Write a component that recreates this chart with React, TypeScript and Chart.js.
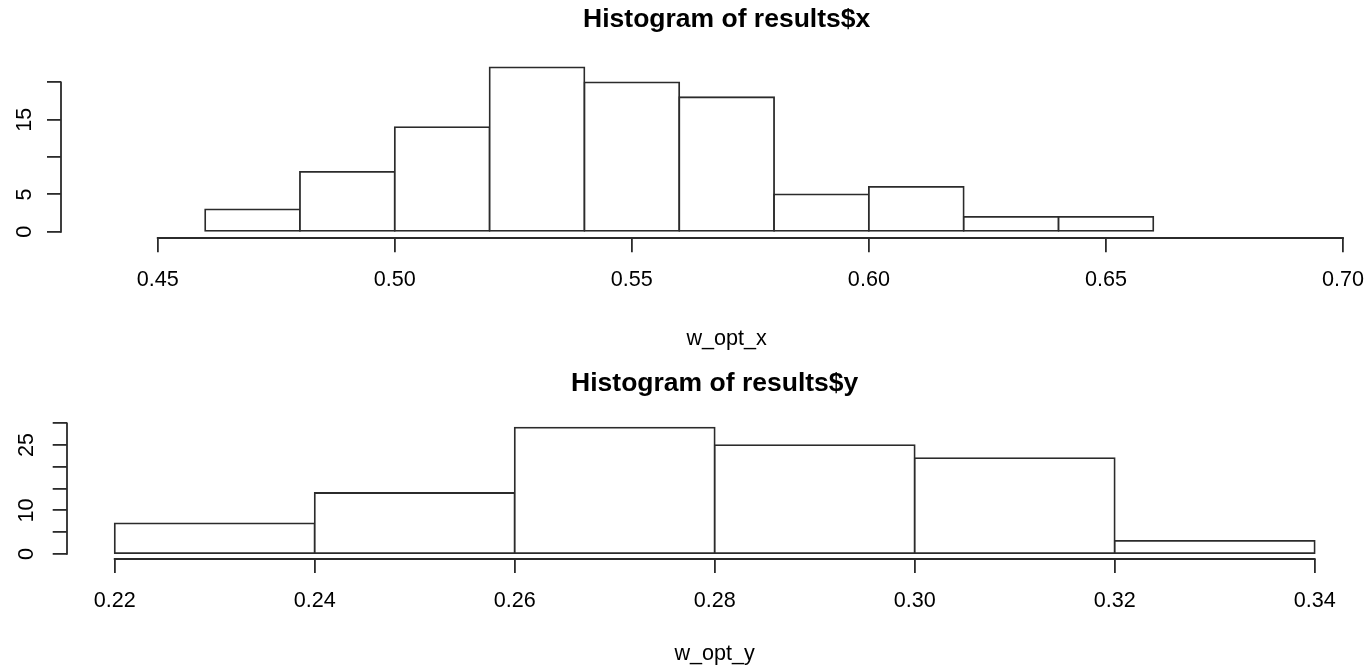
import React, { useEffect, useRef } from 'react';
import { Chart, registerables } from 'chart.js';

Chart.register(...registerables);

// ---- Data: histogram of results$x ----
const xBreaks = [0.46, 0.48, 0.5, 0.52, 0.54, 0.56, 0.58, 0.6, 0.62, 0.64, 0.66];
const xCounts = [3, 8, 14, 22, 20, 18, 5, 6, 2, 2];
const xAxisTicks = [0.45, 0.5, 0.55, 0.6, 0.65, 0.7];
const xAxisLimits = [0.44, 0.7];
const xFreqTicks = [0, 5, 10, 15, 20];
const xFreqLabels = [0, 5, 15];

// ---- Data: histogram of results$y ----
const yBreaks = [0.22, 0.24, 0.26, 0.28, 0.3, 0.32, 0.34];
const yCounts = [7, 14, 29, 25, 22, 3];
const yAxisTicks = [0.22, 0.24, 0.26, 0.28, 0.3, 0.32, 0.34];
const yAxisLimits = [0.22, 0.34];
const yFreqTicks = [0, 5, 10, 15, 20, 25, 30];
const yFreqLabels = [0, 10, 25];

const LINE = '#2b2b2b';
const LW = 1.8;
const FONT = "'Liberation Sans', Arial, Helvetica, sans-serif";
const TICK_SIZE = 21.6;
const TITLE_SIZE = 26.5;

type Panel = {
  title: string;
  xlabel: string;
  top: number;
  width: number;
  height: number;
  yAxisWidth: number;
  xAxisHeight: number;
  padRight: number;
  titlePadTop: number;
  titlePadBottom: number;
  xTitlePadBottom: number;
  yTickPad: number;
  xTickPad: number;
};

const topPanel: Panel = {
  title: 'Histogram of results$x',
  xlabel: 'w_opt_x',
  top: 0,
  width: 1400,
  height: 360,
  yAxisWidth: 61,
  xAxisHeight: 121.7,
  padRight: 7.7,
  titlePadTop: 3.4,
  titlePadBottom: 25.6,
  xTitlePadBottom: 7.8,
  yTickPad: 10,
  xTickPad: 14.6,
};

const bottomPanel: Panel = {
  title: 'Histogram of results$y',
  xlabel: 'w_opt_y',
  top: 360,
  width: 1368,
  height: 309,
  yAxisWidth: 66.7,
  xAxisHeight: 110,
  padRight: 5.3,
  titlePadTop: 7.8,
  titlePadBottom: 23,
  xTitlePadBottom: 1.8,
  yTickPad: 14,
  xTickPad: 15.4,
};

const axisLinesPlugin = {
  id: 'rAxisLines',
  afterDraw(chart: any, _args: any, opts: any) {
    const { ctx, chartArea, scales } = chart;
    const xs = scales.x;
    const ys = scales.y;
    const xt: number[] = opts.xTicks;
    const yt: number[] = opts.yTicks;
    ctx.save();
    ctx.strokeStyle = LINE;
    ctx.lineWidth = LW;
    ctx.lineCap = 'square';
    ctx.beginPath();
    const yb = Math.round(chartArea.bottom);
    ctx.moveTo(xs.getPixelForValue(xt[0]), yb);
    ctx.lineTo(xs.getPixelForValue(xt[xt.length - 1]), yb);
    const xl = Math.round(chartArea.left);
    ctx.moveTo(xl, ys.getPixelForValue(yt[0]));
    ctx.lineTo(xl, ys.getPixelForValue(yt[yt.length - 1]));
    ctx.stroke();
    ctx.restore();
  },
};

type HistProps = {
  panel: Panel;
  breaks: number[];
  counts: number[];
  axisTicks: number[];
  limits: number[];
  freqTicks: number[];
  freqLabels: number[];
};

function Histogram({ panel, breaks, counts, axisTicks, limits, freqTicks, freqLabels }: HistProps) {
  const ref = useRef<HTMLCanvasElement | null>(null);

  useEffect(() => {
    if (!ref.current) return;
    const mids = counts.map((_, i) => (breaks[i] + breaks[i + 1]) / 2);
    const ymax = Math.max(...counts);
    const span = limits[1] - limits[0];
    const tickFont = { family: FONT, size: TICK_SIZE, lineHeight: 1.2 };

    const chart = new Chart(ref.current, {
      type: 'bar',
      data: {
        datasets: [
          {
            data: mids.map((m, i) => ({ x: m, y: counts[i] })),
            backgroundColor: '#ffffff',
            borderColor: LINE,
            borderWidth: LW,
            borderSkipped: false,
            inflateAmount: LW / 2,
            barPercentage: 1,
            categoryPercentage: 1,
          } as any,
        ],
      },
      options: {
        animation: false,
        responsive: false,
        maintainAspectRatio: false,
        events: [],
        layout: { padding: { left: 0, top: 0, bottom: 0, right: panel.padRight } },
        plugins: {
          legend: { display: false },
          tooltip: { enabled: false },
          title: {
            display: true,
            text: panel.title,
            fullSize: false,
            color: '#000',
            font: { family: FONT, size: TITLE_SIZE, weight: 'bold', lineHeight: 1.2 },
            padding: { top: panel.titlePadTop, bottom: panel.titlePadBottom },
          },
          rAxisLines: { xTicks: axisTicks, yTicks: freqTicks },
        } as any,
        scales: {
          x: {
            type: 'linear',
            position: 'bottom',
            offset: false,
            bounds: 'data',
            min: limits[0] - 0.04 * span,
            max: limits[1] + 0.04 * span,
            afterBuildTicks: (s: any) => {
              s.ticks = axisTicks.map((v) => ({ value: v }));
            },
            afterFit: (s: any) => {
              s.height = panel.xAxisHeight;
            },
            grid: {
              display: true,
              offset: false,
              drawOnChartArea: false,
              drawTicks: true,
              tickLength: 14,
              color: LINE,
              lineWidth: LW,
            },
            border: { display: false },
            ticks: {
              autoSkip: false,
              minRotation: 0,
              maxRotation: 0,
              padding: panel.xTickPad,
              color: '#000',
              font: tickFont,
              callback: (v: any) => Number(v).toFixed(2),
            },
            title: {
              display: true,
              text: panel.xlabel,
              color: '#000',
              font: tickFont,
              padding: { top: 0, bottom: panel.xTitlePadBottom },
            },
          },
          y: {
            type: 'linear',
            position: 'left',
            bounds: 'data',
            min: -0.04 * ymax,
            max: ymax * 1.04,
            afterBuildTicks: (s: any) => {
              s.ticks = freqTicks.map((v) => ({ value: v }));
            },
            afterFit: (s: any) => {
              s.width = panel.yAxisWidth;
            },
            grid: {
              display: true,
              drawOnChartArea: false,
              drawTicks: true,
              tickLength: 14,
              color: LINE,
              lineWidth: LW,
            },
            border: { display: false },
            ticks: {
              autoSkip: false,
              minRotation: 90,
              maxRotation: 90,
              crossAlign: 'center',
              padding: panel.yTickPad,
              color: '#000',
              font: tickFont,
              callback: (v: any) => (freqLabels.includes(Number(v)) ? String(v) : ''),
            },
          },
        } as any,
      },
      plugins: [axisLinesPlugin],
    });

    return () => chart.destroy();
  }, [panel, breaks, counts, axisTicks, limits, freqTicks, freqLabels]);

  return (
    <canvas
      ref={ref}
      width={panel.width}
      height={panel.height}
      style={{
        position: 'absolute',
        left: 0,
        top: panel.top,
        width: panel.width,
        height: panel.height,
        display: 'block',
      }}
    />
  );
}

export default function App() {
  return (
    <div
      style={{
        position: 'absolute',
        left: 0,
        top: 0,
        width: 1368,
        height: 669,
        overflow: 'hidden',
        background: '#ffffff',
      }}
    >
      <Histogram
        panel={topPanel}
        breaks={xBreaks}
        counts={xCounts}
        axisTicks={xAxisTicks}
        limits={xAxisLimits}
        freqTicks={xFreqTicks}
        freqLabels={xFreqLabels}
      />
      <Histogram
        panel={bottomPanel}
        breaks={yBreaks}
        counts={yCounts}
        axisTicks={yAxisTicks}
        limits={yAxisLimits}
        freqTicks={yFreqTicks}
        freqLabels={yFreqLabels}
      />
    </div>
  );
}
